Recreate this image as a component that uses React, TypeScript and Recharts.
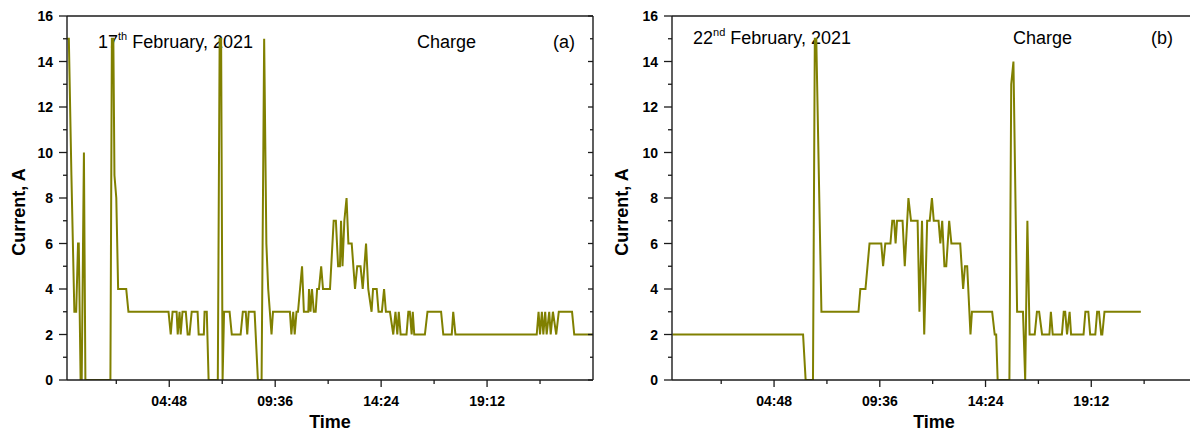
import React from "react";
import { LineChart, Line, XAxis, YAxis, Customized } from "recharts";

// panel (a): 17 February 2021, time in minutes after midnight
const TIME_A = [
  10, 15, 22, 30, 35, 40, 42, 47, 50, 56, 60, 128, 132, 136, 139, 144, 149, 171, 177,
  286, 292, 297, 308, 311, 316, 319, 324, 333, 338, 343, 349, 365, 368, 382, 384, 390,
  395, 420, 425, 429, 433, 437, 452, 458, 482, 488, 496, 500, 504, 520, 529, 539, 546,
  552, 557, 566, 570, 616, 620, 625, 629, 634, 638, 649, 654, 666, 668, 672, 676, 681,
  686, 690, 695, 701, 706, 725, 735, 741, 747, 752, 755, 759, 764, 770, 775, 784, 793,
  799, 808, 814, 823, 829, 838, 842, 852, 857, 866, 872, 877, 888, 897, 903, 908, 912,
  917, 933, 938, 942, 947, 950, 954, 983, 990, 1027, 1033, 1056, 1060, 1066, 1287, 1292,
  1296, 1301, 1305, 1310, 1314, 1321, 1325, 1331, 1340, 1347, 1383, 1389, 1440,
];
const CURRENT_A = [
  15, 15, 9, 3, 3, 6, 6, 0, 0, 10, 0, 0, 15, 15, 9, 8, 4, 4, 3,
  3, 2, 3, 3, 2, 3, 2, 3, 3, 2, 2, 3, 3, 2, 2, 3, 3,
  0, 0, 15, 15, 0, 3, 3, 2, 2, 3, 3, 2, 3, 3, 0, 0, 15,
  6, 4, 2, 3, 3, 2, 3, 2, 3, 3, 5, 3, 3, 4, 3, 4, 3,
  3, 4, 4, 5, 4, 4, 7, 7, 5, 5, 7, 5, 7, 8, 6, 6, 4,
  5, 5, 4, 6, 4, 3, 4, 4, 3, 3, 4, 3, 3, 2, 3, 2, 3,
  2, 2, 3, 3, 2, 3, 2, 2, 3, 3, 2, 2, 3, 2, 2, 3,
  2, 3, 2, 3, 2, 3, 2, 3, 2, 3, 3, 2, 2,
];

// panel (b): 22 February 2021
const TIME_B = [
  11, 367, 374, 394, 399, 403, 417, 518, 523, 537, 548, 580, 585, 591, 605, 610, 615,
  619, 623, 638, 644, 654, 661, 679, 684, 691, 697, 705, 712, 718, 723, 736, 741, 746,
  752, 757, 765, 771, 795, 803, 808, 814, 823, 827, 882, 889, 893, 897, 929, 934, 940,
  950, 966, 972, 978, 984, 998, 1004, 1010, 1018, 1038, 1042, 1047, 1072, 1077, 1081,
  1086, 1093, 1097, 1131, 1136, 1144, 1149, 1163, 1168, 1173, 1179, 1182, 1188, 1287,
];
const CURRENT_B = [
  2, 2, 0, 0, 15, 15, 3, 3, 4, 4, 6, 6, 5, 6, 6, 7, 7,
  6, 7, 7, 5, 8, 7, 7, 3, 7, 2, 7, 7, 8, 7, 7, 6, 7,
  5, 5, 7, 6, 6, 4, 5, 5, 2, 3, 3, 2, 2, 0, 0, 13, 14,
  3, 3, 0, 7, 2, 2, 3, 3, 2, 2, 3, 2, 2, 3, 3,
  2, 3, 2, 2, 3, 3, 2, 2, 3, 3, 2, 2, 3, 3,
];

const X_TICKS = [144, 288, 432, 576, 720, 864, 1008, 1152, 1296];
const X_LABELS = ["", "04:48", "", "09:36", "", "14:24", "", "19:12", ""];
const Y_TICKS = [0, 1, 2, 3, 4, 5, 6, 7, 8, 9, 10, 11, 12, 13, 14, 15, 16];
const X_DOMAIN = [10, 1440];

const OLIVE = "#808000";
const INK = "#1b1b1b";
const FONT = "'Liberation Sans', Arial, sans-serif";

const xLabel = (v: number) => X_LABELS[X_TICKS.indexOf(v)] || "";

const BottomTick = (p: any) => {
  const v = p.payload.value;
  const lab = xLabel(v);
  return (
    <g>
      <line x1={p.x} x2={p.x} y1={p.y} y2={p.y + (lab ? 7 : 4)} stroke={INK} strokeWidth={1.3} />
      {lab && (
        <text x={p.x} y={p.y + 26} textAnchor="middle" fontFamily={FONT} fontWeight="bold" fontSize={14} fill="#000">
          {lab}
        </text>
      )}
    </g>
  );
};

const TopTick = (p: any) => {
  const major = xLabel(p.payload.value) !== "";
  return <line x1={p.x} x2={p.x} y1={p.y} y2={p.y + (major ? 5 : 3)} stroke={INK} strokeWidth={1.3} />;
};

const LeftTick = (p: any) => {
  const v = p.payload.value;
  const major = v % 2 === 0;
  return (
    <g>
      <line x1={p.x - (major ? 8 : 4)} x2={p.x} y1={p.y} y2={p.y} stroke={INK} strokeWidth={1.3} />
      {major && (
        <text x={p.x - 14} y={p.y + 5} textAnchor="end" fontFamily={FONT} fontWeight="bold" fontSize={14} fill="#000">
          {v}
        </text>
      )}
    </g>
  );
};

const RightTick = (p: any) => {
  const major = p.payload.value % 2 === 0;
  return <line x1={p.x - (major ? 5 : 3)} x2={p.x} y1={p.y} y2={p.y} stroke={INK} strokeWidth={1.3} />;
};

type Notes = {
  day: string;
  sup: string;
  tag: string;
  dayX: number;
  chargeX: number;
  tagX: number;
  baseY: number;
  yTitleX: number;
  timeX: number;
};

const Annotations = ({ n }: { n: Notes }) => (
  <g fontFamily={FONT} fill="#000">
    <text x={n.dayX} y={n.baseY} fontSize={18}>
      {n.day.split(" ")[0]}
      <tspan fontSize={11} dy={-8}>{n.sup}</tspan>
      <tspan fontSize={18} dy={8}>{" " + n.day.split(" ").slice(1).join(" ")}</tspan>
    </text>
    <text x={n.chargeX} y={n.baseY} fontSize={18}>Charge</text>
    <text x={n.tagX} y={n.baseY} fontSize={18}>{n.tag}</text>
    <text
      x={n.yTitleX}
      y={212}
      transform={`rotate(-90 ${n.yTitleX} 212)`}
      textAnchor="middle"
      dominantBaseline="central"
      fontSize={18}
      fontWeight="bold"
    >
      Current, A
    </text>
    <text x={n.timeX} y={428} textAnchor="middle" fontSize={18} fontWeight="bold">Time</text>
  </g>
);

function Panel({ times, values, width, axisW, notes }: { times: number[]; values: number[]; width: number; axisW: number; notes: Notes }) {
  const data = times.map((t, i) => ({ t, i: values[i] }));
  return (
    <LineChart width={width} height={431} data={data} margin={{ top: 16, right: 8, bottom: 0, left: 0 }}>
      <XAxis
        dataKey="t"
        type="number"
        domain={X_DOMAIN}
        allowDataOverflow
        ticks={X_TICKS}
        interval={0}
        height={51}
        tickSize={0}
        tickMargin={0}
        tickLine={false}
        tick={<BottomTick />}
        axisLine={{ stroke: INK, strokeWidth: 1.4 }}
      />
      <XAxis
        xAxisId="top"
        orientation="top"
        mirror
        type="number"
        domain={X_DOMAIN}
        allowDataOverflow
        ticks={X_TICKS}
        interval={0}
        tickSize={0}
        tickMargin={0}
        tickLine={false}
        tick={<TopTick />}
        axisLine={{ stroke: INK, strokeWidth: 1.4 }}
      />
      <YAxis
        type="number"
        domain={[0, 16]}
        allowDataOverflow
        ticks={Y_TICKS}
        interval={0}
        width={axisW}
        tickSize={0}
        tickMargin={0}
        tickLine={false}
        tick={<LeftTick />}
        axisLine={{ stroke: INK, strokeWidth: 1.4 }}
      />
      <YAxis
        yAxisId="right"
        orientation="right"
        mirror
        type="number"
        domain={[0, 16]}
        allowDataOverflow
        ticks={Y_TICKS}
        interval={0}
        tickSize={0}
        tickMargin={0}
        tickLine={false}
        tick={<RightTick />}
        axisLine={{ stroke: INK, strokeWidth: 1.4 }}
      />
      <Line
        dataKey="i"
        type="linear"
        stroke={OLIVE}
        strokeWidth={2}
        dot={false}
        isAnimationActive={false}
      />
      <Customized component={<Annotations n={notes} />} />
    </LineChart>
  );
}

export default function App() {
  return (
    <div style={{ position: "absolute", left: 0, top: 0, width: 1190, height: 431, overflow: "hidden", background: "#fff" }}>
      <div style={{ position: "absolute", left: 0, top: 0 }}>
        <Panel
          times={TIME_A}
          values={CURRENT_A}
          width={601}
          axisW={67}
          notes={{ day: "17 February, 2021", sup: "th", tag: "(a)", dayX: 98, chargeX: 417, tagX: 553, baseY: 48, yTitleX: 19, timeX: 330 }}
        />
      </div>
      <div style={{ position: "absolute", left: 600, top: 0 }}>
        <Panel
          times={TIME_B}
          values={CURRENT_B}
          width={605}
          axisW={72}
          notes={{ day: "22 February, 2021", sup: "nd", tag: "(b)", dayX: 93, chargeX: 413, tagX: 551, baseY: 44, yTitleX: 22, timeX: 334 }}
        />
      </div>
    </div>
  );
}
